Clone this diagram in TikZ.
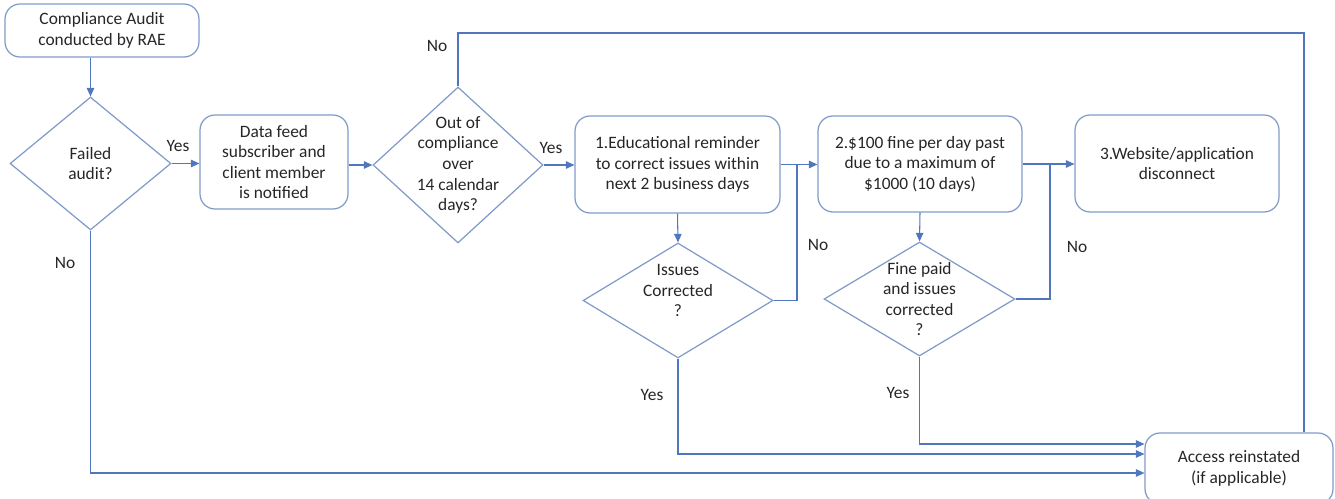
\documentclass[tikz,border=0pt]{standalone}
\usepackage{fontspec}
\setmainfont{Carlito}
\usetikzlibrary{shapes.geometric,arrows.meta}

\definecolor{flowline}{RGB}{80,118,190}
\definecolor{boxline}{RGB}{128,155,200}
\definecolor{ink}{RGB}{38,38,38}

\tikzset{
  every node/.style={font=\fontsize{9.9}{11.7}\selectfont, text=ink},
  stepbox/.style={draw=boxline, line width=0.7pt, rounded corners=0.3cm, align=center, inner sep=0pt},
  decision/.style={draw=boxline, line width=0.7pt, diamond, inner sep=0pt},
  flow/.style={draw=flowline, line width=0.6pt},
  arr/.style={flow, -{Triangle[length=1.7mm,width=1.5mm]}},
  lbl/.style={inner sep=0pt},
}

\begin{document}
\begin{tikzpicture}[x=0.02cm, y=-0.02cm]
  \useasboundingbox (0,0) rectangle (1335,499);

  % steps and decisions
  \node[stepbox, minimum width=3.88cm, minimum height=1.06cm] (audit) at (102,30.5) {Compliance Audit\\conducted by RAE};
  \node[decision, minimum width=3.22cm, minimum height=2.66cm,
        label={[align=center]center:Failed\\audit?}] (fail) at (90.5,163.5) {};
  \node[stepbox, minimum width=2.96cm, minimum height=1.88cm] (notify) at (274,162) {Data feed\\subscriber and\\client member\\is notified};
  \node[decision, minimum width=3.4cm, minimum height=3.12cm,
        label={[align=center]center:Out of\\compliance\\over\\14 calendar\\days?}] (oc) at (458,165) {};
  \node[stepbox, minimum width=4.1cm, minimum height=1.94cm] (remind) at (677.5,164.5) {1.Educational reminder\\to correct issues within\\next 2 business days};
  \node[decision, minimum width=3.8cm, minimum height=2.3cm,
        label={[align=center, yshift=0.2cm]center:Issues\\Corrected\\?}] (issues) at (678,300.5) {};
  \node[stepbox, minimum width=4.08cm, minimum height=1.92cm] (fine) at (920,164) {2.\$100 fine per day past\\due to a maximum of\\\$1000 (10 days)};
  \node[decision, minimum width=3.82cm, minimum height=2.28cm,
        label={[align=center]center:Fine paid\\and issues\\corrected\\?}] (paid) at (919.5,299) {};
  \node[stepbox, minimum width=4.08cm, minimum height=1.94cm] (cut) at (1177,163.5) {3.Website/application\\disconnect};
  \node[stepbox, minimum width=3.76cm, minimum height=1.42cm] (access) at (1239,468.5) {Access reinstated\\(if applicable)};

  % helpers
  \coordinate (j1) at (797,164.5);
  \coordinate (j2) at (1050,164);
  \coordinate (loop) at (1304,33);
  \coordinate (in1) at ([yshift=0.49cm]access.west);
  \coordinate (in2) at ([yshift=0.29cm]access.west);
  \coordinate (in3) at ([yshift=-0.09cm]access.west);

  % connectors
  \draw[arr] (audit.south -| fail.north) -- (fail.north);
  \draw[arr] (fail.east) -- (fail.east -| notify.west);
  \draw[arr] (notify.east |- oc.west) -- (oc.west);
  \draw[arr] (oc.east) -- (oc.east -| remind.west);
  \draw[arr] (remind.south) -- (issues.north);
  \draw[arr] (remind.east) -- (remind.east -| fine.west);
  \draw[flow] (issues.east) -| (j1);
  \draw[arr] (fine.south) -- (paid.north);
  \draw[arr] (fine.east) -- (fine.east -| cut.west);
  \draw[flow] (paid.east) -| (j2);
  \draw[flow] (oc.north) |- (loop) -- (access.north -| loop);
  \draw[arr] (paid.south) |- (in1);
  \draw[arr] (issues.south) |- (in2);
  \draw[arr] (fail.south) |- (in3);

  % yes / no
  \node[lbl] (yes1) at (178,146) {Yes};
  \node[lbl] (no1) at (437,46) {No};
  \node[lbl] (yes2) at (551,148) {Yes};
  \node[lbl] (no2) at (818,245) {No};
  \node[lbl] (no3) at (1077,247) {No};
  \node[lbl] (no4) at (65,263) {No};
  \node[lbl] (yes3) at (652,395) {Yes};
  \node[lbl] (yes4) at (898,393) {Yes};
\end{tikzpicture}
\end{document}
